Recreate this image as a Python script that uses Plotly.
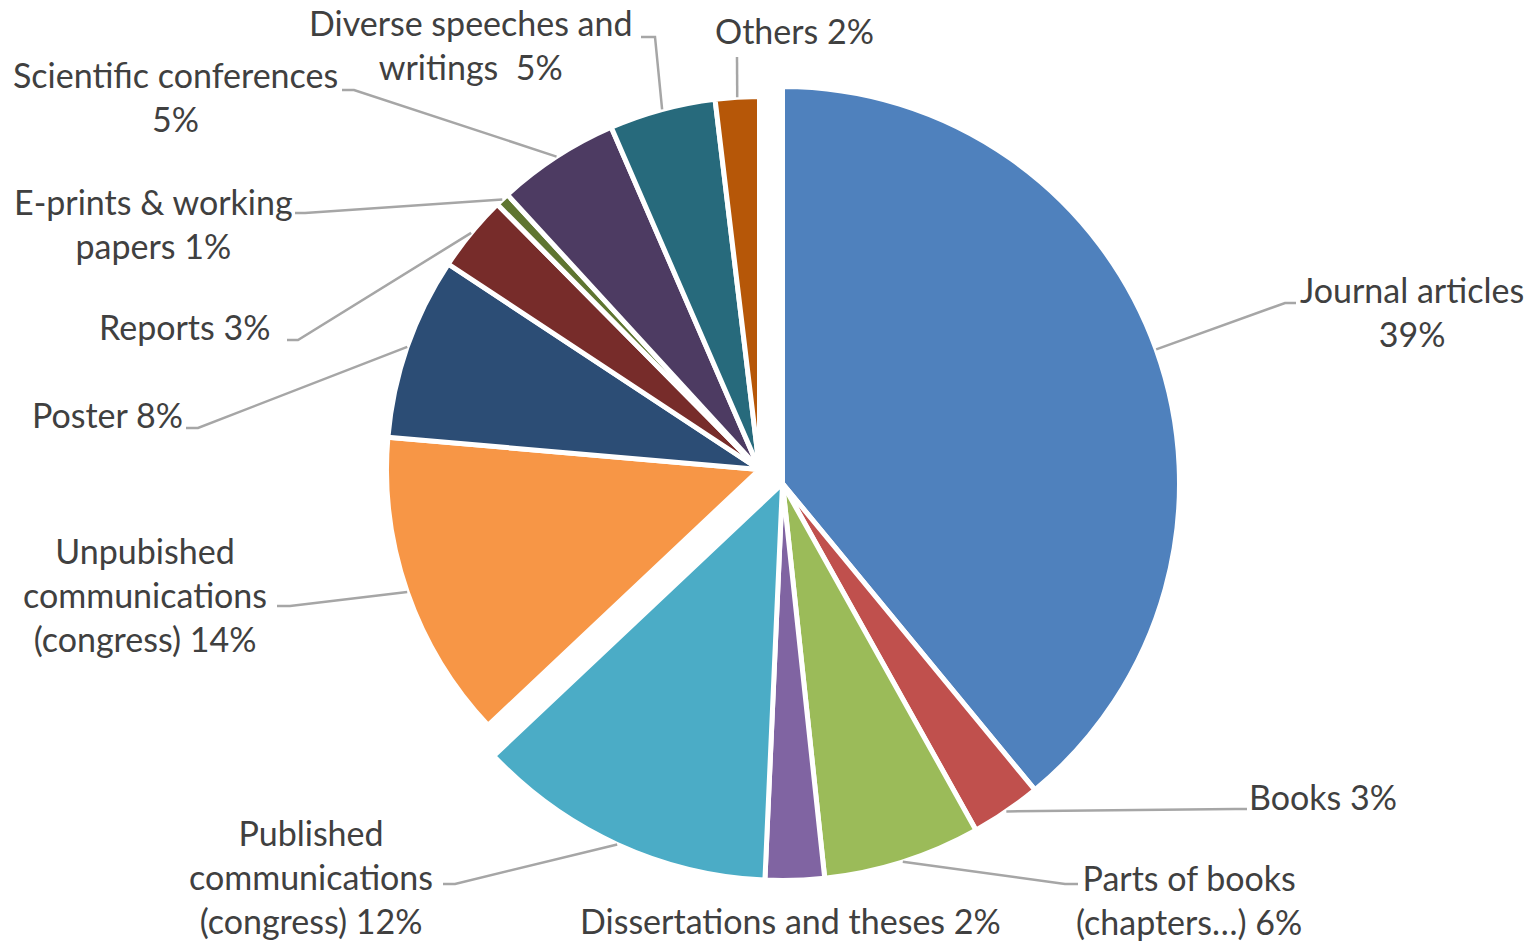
import math
import plotly.graph_objects as go

# ---------------- data ----------------
categories = [
    "Journal articles", "Books", "Parts of books (chapters…)", "Dissertations and theses",
    "Published communications (congress)", "Unpubished communications (congress)",
    "Poster", "Reports", "E-prints & working papers", "Scientific conferences",
    "Diverse speeches and writings", "Others",
]
shares = [39.0, 2.86, 6.4, 2.4, 12.25, 13.4, 7.9, 3.3, 0.6, 5.3, 4.6, 1.9]
label_texts = [
    "Journal articles<br>39%", "Books 3%", "Parts of books<br>(chapters…) 6%",
    "Dissertations and theses 2%", "Published<br>communications<br>(congress) 12%",
    "Unpubished<br>communications<br>(congress) 14%", "Poster 8%", "Reports 3%",
    "E-prints & working<br>papers 1%", "Scientific conferences<br>5%",
    "Diverse speeches and<br>writings  5%", "Others 2%",
]
# which pie block each slice belongs to (0: right block, 1: left block)
group = [0, 0, 0, 0, 0, 1, 1, 1, 1, 1, 1, 1]

# ---------------- styles / layout ----------------
colors = ["#4F81BD", "#C0504D", "#9BBB59", "#8064A2", "#4BACC6", "#F79646",
          "#2C4D75", "#772C2A", "#5F7530", "#4D3B62", "#276A7C", "#B65708"]
W, H = 1534, 949
# pie blocks: centre (px) and radius (px)
blocks = [dict(cx=782.5, cy=483.5, r=397), dict(cx=759.5, cy=469.5, r=373)]
BORDER = 5
FONT = dict(family="Lato, 'Open Sans', sans-serif", size=34, color="#404040")
LINE_COLOR = "#A6A6A6"
# label placement (px): text centre, elbow point, end point of leader (None = no leader)
label_pos = [
    dict(x=1412, y=311, elbow=(1285, 303), end=(1296, 303)),
    dict(x=1323, y=796, elbow=(1235, 809), end=(1247, 809)),
    dict(x=1189, y=899, elbow=(1065, 884), end=(1078, 884)),
    dict(x=790, y=920, elbow=None, end=None),
    dict(x=311, y=876, elbow=(455, 884), end=(443, 884)),
    dict(x=145, y=594, elbow=(290, 606), end=(277, 606)),
    dict(x=107, y=414, elbow=(198, 428), end=(186, 428)),
    dict(x=184, y=326, elbow=(298, 340), end=(287, 340)),
    dict(x=153, y=223, elbow=(305, 213), end=(295, 213)),
    dict(x=175, y=97, elbow=(354, 90), end=(342, 90)),
    dict(x=471, y=45, elbow=(655, 37), end=(641, 37)),
    dict(x=794, y=30, elbow=(737, 57), end=(737, 57)),
]


def px(x):
    return x / W


def py(y):
    return 1 - y / H


fig = go.Figure()
for gi, b in enumerate(blocks):
    cols = [c if g == gi else "rgba(0,0,0,0)" for c, g in zip(colors, group)]
    lw = [BORDER if g == gi else 0 for g in group]
    fig.add_trace(go.Pie(
        labels=categories, values=shares, sort=False, direction="clockwise", rotation=0,
        textinfo="none", hoverinfo="label+percent" if gi == 0 else "skip",
        marker=dict(colors=cols, line=dict(color="white", width=lw)),
        domain=dict(x=[px(b["cx"] - b["r"]), px(b["cx"] + b["r"])],
                    y=[py(b["cy"] + b["r"]), py(b["cy"] - b["r"])]),
        showlegend=False,
    ))

# leader lines anchored at the slice mid-angle on the arc, and labels
total = sum(shares)
cum = 0.0
shapes, annotations = [], []
for i, v in enumerate(shares):
    mid = (cum + v / 2) / total * 360.0
    cum += v
    b = blocks[group[i]]
    ax = b["cx"] + b["r"] * math.sin(math.radians(mid))
    ay = b["cy"] - b["r"] * math.cos(math.radians(mid))
    lp = label_pos[i]
    if lp["elbow"] is not None:
        ex, ey = lp["elbow"]
        tx, ty = lp["end"]
        path = f"M {px(ax)},{py(ay)} L {px(ex)},{py(ey)} L {px(tx)},{py(ty)}"
        shapes.append(dict(type="path", path=path, xref="paper", yref="paper",
                           line=dict(color=LINE_COLOR, width=2.5)))
    annotations.append(dict(text=label_texts[i], x=px(lp["x"]), y=py(lp["y"]),
                            xref="paper", yref="paper", showarrow=False,
                            xanchor="center", yanchor="middle", align="center",
                            font=FONT))

fig.update_layout(
    width=W, height=H, margin=dict(l=0, r=0, t=0, b=0),
    paper_bgcolor="white", plot_bgcolor="white",
    shapes=shapes, annotations=annotations,
)
fig.write_html("out.html", config={"displayModeBar": False},
               post_script="document.body.style.margin='0';")
